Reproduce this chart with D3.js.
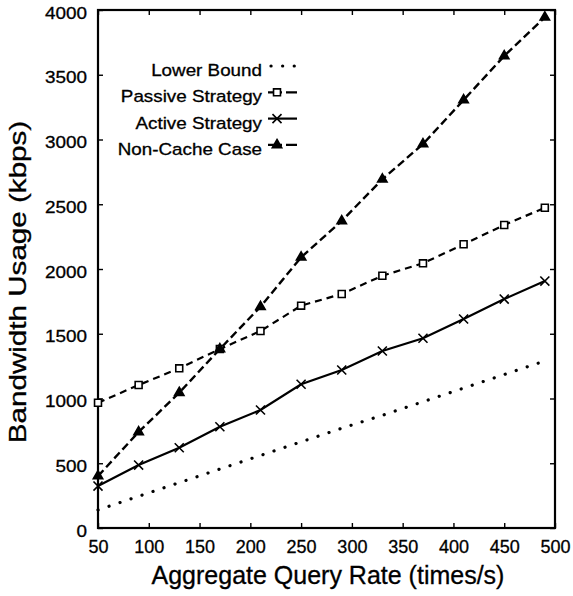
<!DOCTYPE html>
<meta charset="utf-8">
<html>
<head>
<style>
  body { margin: 0; background: #fff; }
  text { font-family: "Liberation Sans", Arial, sans-serif; fill: #000; }
</style>
</head>
<body>
<div id="chart"></div>
<script src="https://d3js.org/d3.v7.min.js"></script>
<script>
  // query rates (times/s)
  var rates = [50, 90, 130, 170, 210, 250, 290, 330, 370, 410, 450, 490];
  // bandwidth usage (kbps)
  var lowerBound = [139, 245, 350, 455, 560, 665, 770, 870, 975, 1080, 1185, 1290];
  var passive    = [967, 1104, 1233, 1382, 1521, 1717, 1807, 1948, 2044, 2191, 2340, 2473];
  var active     = [324, 486, 620, 782, 911, 1110, 1220, 1367, 1465, 1614, 1768, 1907];
  var nonCache   = [401, 741, 1045, 1382, 1709, 2090, 2371, 2693, 2965, 3305, 3645, 3944];

  var xTicks = [50, 100, 150, 200, 250, 300, 350, 400, 450, 500];
  var yTicks = [0, 500, 1000, 1500, 2000, 2500, 3000, 3500, 4000];
  var seriesNames = ["Lower Bound", "Passive Strategy", "Active Strategy", "Non-Cache Case"];

  var width = 573, height = 596;
  var plotL = 98, plotR = 555, plotT = 10, plotB = 528;

  var svg = d3.select("#chart").append("svg")
      .attr("width", width)
      .attr("height", height);

  var x = d3.scaleLinear().domain([50, 500]).range([plotL, plotR]);
  var y = d3.scaleLinear().domain([0, 4000]).range([plotB, plotT]);

  // ticks on all four sides, pointing inward
  var gb = svg.append("g").attr("transform", "translate(0," + plotB + ")")
    .call(d3.axisBottom(x).tickValues(xTicks).tickFormat(d3.format("d")).tickSizeInner(-5).tickSizeOuter(0));
  gb.selectAll("text").attr("y", 25).attr("dy", null).style("font-size", "18px");

  var gl = svg.append("g").attr("transform", "translate(" + plotL + ",0)")
    .call(d3.axisLeft(y).tickValues(yTicks).tickFormat(d3.format("d")).tickSizeInner(-5).tickSizeOuter(0));
  gl.selectAll("text")
    .attr("x", null)
    .attr("dy", "0.32em")
    .attr("transform", "translate(-11,3) scale(1.16,1)")
    .style("font-size", "16.3px");

  svg.append("g").attr("transform", "translate(0," + plotT + ")")
    .call(d3.axisTop(x).tickValues(xTicks).tickSizeInner(-5).tickSizeOuter(0).tickFormat(""));
  svg.append("g").attr("transform", "translate(" + plotR + ",0)")
    .call(d3.axisRight(y).tickValues(yTicks).tickSizeInner(-5).tickSizeOuter(0).tickFormat(""));

  svg.selectAll(".domain").remove();
  svg.selectAll(".tick line").attr("stroke", "#000").attr("stroke-width", 1.4);
  svg.selectAll(".tick text").attr("stroke", "#000").attr("stroke-width", 0.3);

  svg.append("rect")
    .attr("x", plotL).attr("y", plotT)
    .attr("width", plotR - plotL).attr("height", plotB - plotT)
    .attr("fill", "none").attr("stroke", "#000").attr("stroke-width", 2.2);

  // axis titles
  svg.append("text")
    .attr("x", 328).attr("y", 584)
    .attr("text-anchor", "middle")
    .attr("stroke", "#000").attr("stroke-width", 0.3)
    .style("font-size", "25px")
    .text("Aggregate Query Rate (times/s)");

  svg.append("text")
    .attr("transform", "translate(26,282) rotate(-90) scale(1.26,1)")
    .attr("text-anchor", "middle")
    .attr("stroke", "#000").attr("stroke-width", 0.3)
    .style("font-size", "23.5px")
    .text("Bandwidth Usage (kbps)");

  var line = d3.line()
    .x(function(d, i) { return x(rates[i]); })
    .y(function(d) { return y(d); });

  var styles = [
    { data: lowerBound, dash: "0.1 11.5", width: 3.2, cap: "round", symbol: null },
    { data: passive,    dash: "7 5",      width: 2.2, cap: "butt",  symbol: d3.symbolSquare },
    { data: active,     dash: null,       width: 2.2, cap: "butt",  symbol: d3.symbolTimes || d3.symbolX },
    { data: nonCache,   dash: "8 4",      width: 2.4, cap: "butt", symbol: d3.symbolTriangle }
  ];
  var symSize = [0, 48, 55, 38];
  var symFill = ["none", "#fff", "none", "#000"];

  styles.forEach(function(s, k) {
    svg.append("path")
      .datum(s.data)
      .attr("fill", "none")
      .attr("stroke", "#000")
      .attr("stroke-width", s.width)
      .attr("stroke-linecap", s.cap)
      .attr("stroke-dasharray", s.dash)
      .attr("d", line);

    if (s.symbol) {
      svg.selectAll(".m" + k)
        .data(s.data)
        .enter().append("path")
        .attr("class", "m" + k)
        .attr("transform", function(d, i) { return "translate(" + x(rates[i]) + "," + y(d) + ")"; })
        .attr("d", d3.symbol().type(s.symbol).size(symSize[k]))
        .attr("fill", symFill[k])
        .attr("stroke", "#000")
        .attr("stroke-width", 1.6);
    }
  });

  // legend
  var legend = svg.append("g");
  seriesNames.forEach(function(name, k) {
    var cy = 70 + k * 26.3;
    legend.append("text")
      .attr("transform", "translate(262," + (cy + 6) + ") scale(1.155,1)")
      .attr("text-anchor", "end")
      .attr("stroke", "#000").attr("stroke-width", 0.3)
      .style("font-size", "16.3px")
      .text(name);
    var s = styles[k];
    legend.append("path")
      .attr("d", d3.line()([[k == 0 ? 271 : 268, cy - 4], [297, cy - 4]]))
      .attr("fill", "none")
      .attr("stroke", "#000")
      .attr("stroke-width", s.width)
      .attr("stroke-linecap", s.cap)
      .attr("stroke-dasharray", k == 0 ? "0.1 11.5" : (s.dash ? "14 4" : null));
    if (s.symbol) {
      legend.append("path")
        .attr("transform", "translate(277," + (cy - 4) + ")")
        .attr("d", d3.symbol().type(s.symbol).size(symSize[k]))
        .attr("fill", symFill[k])
        .attr("stroke", "#000")
        .attr("stroke-width", 1.6);
    }
  });
</script>
</body>
</html>
